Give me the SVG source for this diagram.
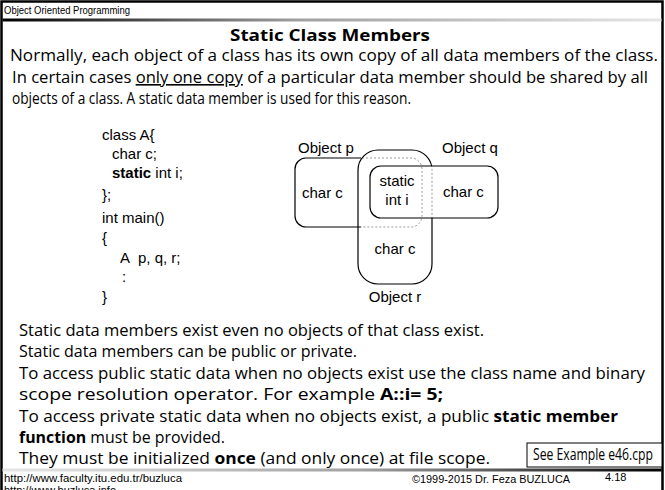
<svg xmlns="http://www.w3.org/2000/svg" width="665" height="490" viewBox="0 0 665 490">
  <style>
    .body { font-family: "Open Sans", "DejaVu Sans", sans-serif; font-size: 16px; fill: #000; }
    .code { font-family: "Liberation Sans", Arial, sans-serif; font-size: 15px; fill: #000; }
    .lbl { font-family: "Liberation Sans", Arial, sans-serif; font-size: 15px; fill: #000; }
    .foot { font-family: "Liberation Sans", Arial, sans-serif; font-size: 11px; fill: #000; }
    .solid { fill: none; stroke: #000; stroke-width: 1.2; }
    .hidden { fill: none; stroke: #9a9a9a; stroke-width: 1; stroke-dasharray: 2 2; }
  </style>
  <defs>
    <linearGradient id="topRule" x1="0" y1="0" x2="1" y2="0">
      <stop offset="0" stop-color="#000"/>
      <stop offset="0.45" stop-color="#a0a0a0"/>
      <stop offset="1" stop-color="#e6e6e6"/>
    </linearGradient>
    <linearGradient id="bottomRule" x1="0" y1="0" x2="1" y2="0">
      <stop offset="0" stop-color="#e6e6e6"/>
      <stop offset="0.55" stop-color="#a0a0a0"/>
      <stop offset="1" stop-color="#000"/>
    </linearGradient>
    <clipPath id="outsideR"><rect x="0" y="0" width="361" height="490"/></clipPath>
    <clipPath id="insideR"><rect x="361" y="0" width="304" height="490"/></clipPath>
    <clipPath id="rFront">
      <rect x="0" y="0" width="665" height="166"/>
      <rect x="0" y="218" width="665" height="272"/>
      <rect x="0" y="0" width="400" height="490"/>
    </clipPath>
    <clipPath id="rBack"><rect x="400" y="166" width="265" height="52"/></clipPath>
  </defs>

  <rect width="665" height="490" fill="#fff"/>

  <!-- slide frame with header and footer rules -->
  <g id="frame">
    <path d="M1.5,490 V1.5 H662.5 V490" fill="none" stroke="#000" stroke-width="2.5"/>
    <rect x="2.5" y="18.5" width="659" height="3" fill="url(#topRule)"/>
    <rect x="2.5" y="468.5" width="659" height="3" fill="url(#bottomRule)"/>
    <text class="foot" x="4" y="14" font-size="11.5" textLength="126" lengthAdjust="spacingAndGlyphs">Object Oriented Programming</text>
  </g>

  <g id="intro">
    <text class="body" x="330" y="41" font-weight="bold" text-anchor="middle" textLength="200" lengthAdjust="spacingAndGlyphs">Static Class Members</text>
    <text class="body" x="10" y="61" textLength="648" lengthAdjust="spacingAndGlyphs">Normally,  each object of a class has its own copy of all data members of the class.</text>
    <text class="body" x="12" y="83" textLength="636" lengthAdjust="spacingAndGlyphs">In certain cases <tspan text-decoration="underline">only one copy</tspan> of a particular data member should be shared by all</text>
    <text class="body" x="12" y="104" textLength="399" lengthAdjust="spacingAndGlyphs">objects of a class. A static data member is used for this reason.</text>
  </g>

  <g id="code">
    <text class="code" x="102" y="140">class A{</text>
    <text class="code" x="112" y="159">char c;</text>
    <text class="code" x="112" y="178"><tspan font-weight="bold">static</tspan> int i;</text>
    <text class="code" x="102" y="200">};</text>
    <text class="code" x="102" y="223">int main()</text>
    <text class="code" x="102" y="243">{</text>
    <text class="code" x="120" y="263">A<tspan x="138">p, q, r;</tspan></text>
    <text class="code" x="122" y="282">:</text>
    <text class="code" x="102" y="302">}</text>
  </g>

  <!-- objects p, q, r sharing one static member -->
  <g id="object-p">
    <rect class="solid" x="295" y="158" width="127" height="69" rx="11" clip-path="url(#outsideR)"/>
    <rect class="hidden" x="295" y="158" width="127" height="69" rx="11" clip-path="url(#insideR)"/>
    <text class="lbl" x="298" y="153">Object p</text>
    <text class="lbl" x="302" y="198">char c</text>
  </g>
  <g id="object-r">
    <rect class="solid" x="358" y="150" width="74" height="134" rx="20" clip-path="url(#rFront)"/>
    <rect class="hidden" x="358" y="150" width="74" height="134" rx="20" clip-path="url(#rBack)"/>
    <text class="lbl" x="395" y="254" text-anchor="middle">char c</text>
    <text class="lbl" x="395" y="302" text-anchor="middle">Object r</text>
  </g>
  <g id="object-q">
    <rect class="solid" x="370" y="166" width="128" height="52" rx="11"/>
    <text class="lbl" x="442" y="153">Object q</text>
    <text class="lbl" x="443" y="197">char c</text>
  </g>
  <g id="static-i">
    <text class="lbl" x="397" y="186" text-anchor="middle">static</text>
    <text class="lbl" x="397" y="205" text-anchor="middle">int i</text>
  </g>

  <g id="notes">
    <text class="body" x="19" y="336" textLength="465" lengthAdjust="spacingAndGlyphs">Static data members exist even no objects of that class exist.</text>
    <text class="body" x="19" y="357" textLength="338" lengthAdjust="spacingAndGlyphs">Static data members can be public or private.</text>
    <text class="body" x="19" y="379" textLength="626" lengthAdjust="spacingAndGlyphs">To access public static data when no objects exist use the class name and binary</text>
    <text class="body" x="19" y="400" textLength="424" lengthAdjust="spacingAndGlyphs">scope resolution operator. For example <tspan font-weight="bold">A::i= 5;</tspan></text>
    <text class="body" x="19" y="422" textLength="599" lengthAdjust="spacingAndGlyphs">To access private static data when no objects exist, a public <tspan font-weight="bold">static member</tspan></text>
    <text class="body" x="19" y="443" textLength="206" lengthAdjust="spacingAndGlyphs"><tspan font-weight="bold">function</tspan> must be provided.</text>
    <text class="body" x="19" y="464" textLength="471" lengthAdjust="spacingAndGlyphs">They must be initialized <tspan font-weight="bold">once</tspan> (and only once) at file scope.</text>
  </g>

  <g id="example-note">
    <rect x="527" y="443" width="135" height="24" fill="#fff" stroke="#000" stroke-width="1"/>
    <text class="body" x="533" y="460" font-size="13.5" textLength="120" lengthAdjust="spacingAndGlyphs">See Example e46.cpp</text>
  </g>

  <g id="footer">
    <text class="foot" x="4" y="482" textLength="178" lengthAdjust="spacingAndGlyphs">http://www.faculty.itu.edu.tr/buzluca</text>
    <text class="foot" x="4" y="494" textLength="112" lengthAdjust="spacingAndGlyphs">http://www.buzluca.info</text>
    <text class="foot" x="412" y="483" textLength="158" lengthAdjust="spacingAndGlyphs">©1999-2015  Dr. Feza BUZLUCA</text>
    <text class="foot" x="605" y="481" font-size="12.5">4.18</text>
  </g>
</svg>
